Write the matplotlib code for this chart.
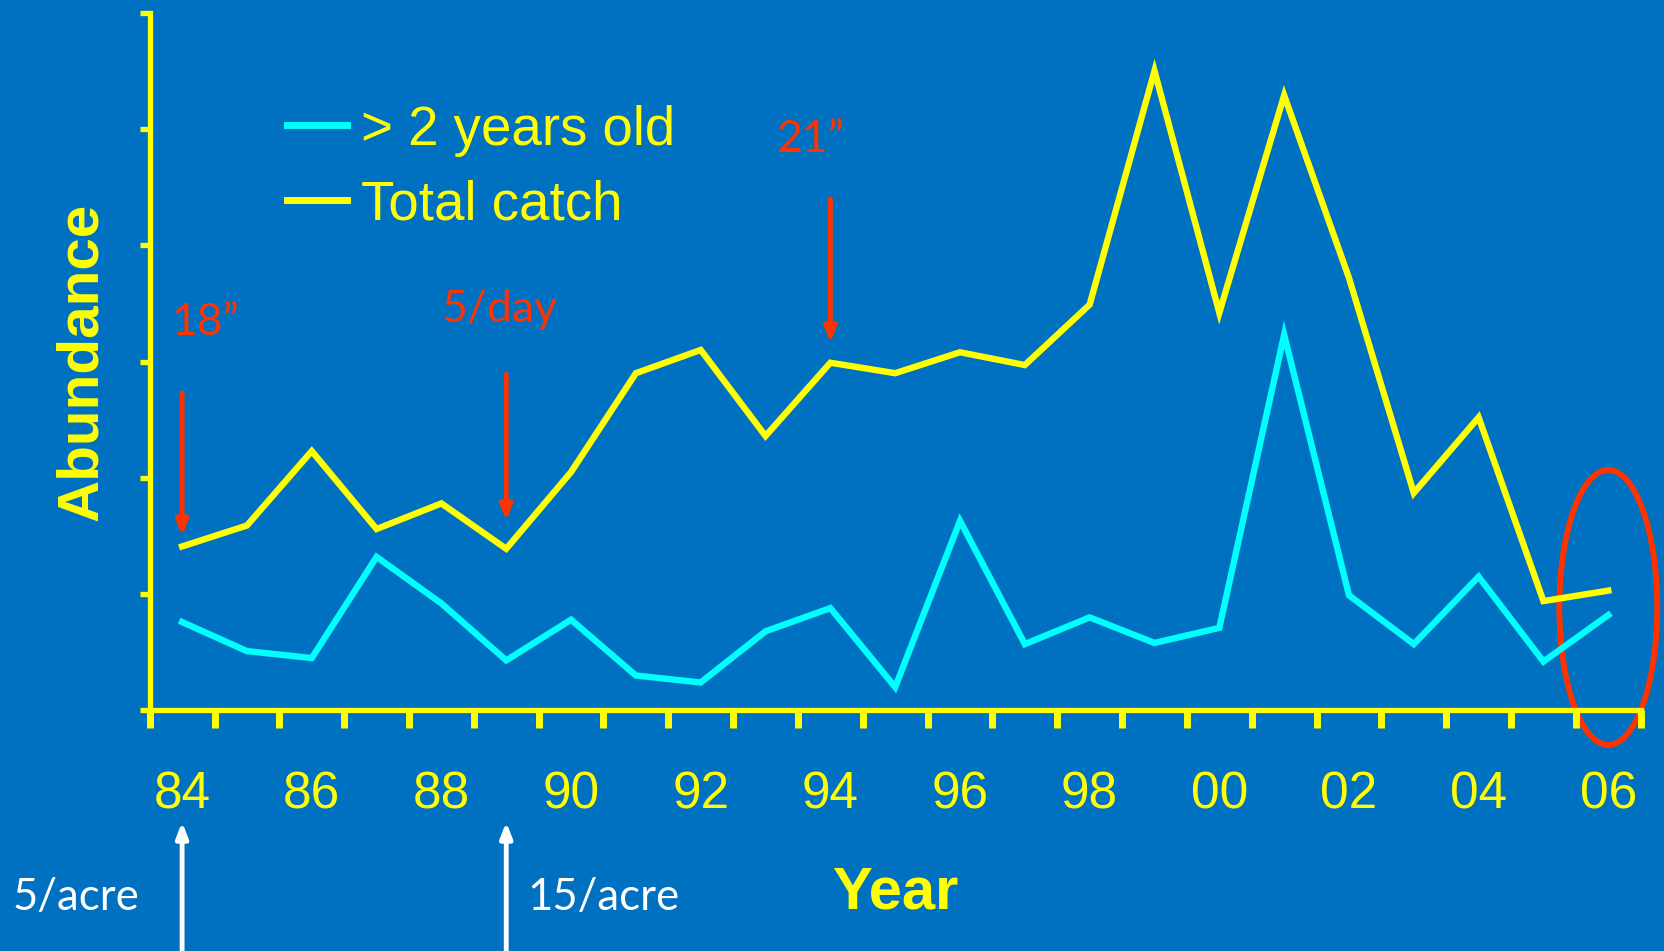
import matplotlib
matplotlib.use("Agg")
import matplotlib.pyplot as plt
from matplotlib.patches import Ellipse

years = list(range(1984, 2007))
total_catch = [14.1, 15.9, 22.3, 15.6, 17.8, 13.9, 20.5, 29.0, 31.0, 23.6, 29.9, 29.0,
               30.8, 29.7, 34.9, 55.0, 34.2, 52.9, 37.2, 18.7, 25.2, 9.4, 10.3]
older = [7.6, 5.1, 4.5, 13.2, 9.2, 4.3, 7.8, 3.0, 2.4, 6.8, 8.8, 2.0,
         16.3, 5.7, 8.0, 5.8, 7.1, 32.3, 9.9, 5.7, 11.5, 4.2, 8.2]
label_years = [1984, 1986, 1988, 1990, 1992, 1994, 1996, 1998, 2000, 2002, 2004, 2006]
tick_labels = ["84", "86", "88", "90", "92", "94", "96", "98", "00", "02", "04", "06"]
series_names = ["> 2 years old", "Total catch"]

# regulation annotations (red, above) and stocking annotations (white, below)
reg_years = [1984, 1989, 1994]
reg_labels = ["18\u201d", "5/day", "21\u201d"]
stock_years = [1984, 1989]
stock_labels = ["5/acre", "15/acre"]

BG = "#0070C0"
YEL = "#FFFF00"
CYAN = "#00FFFF"
RED = "#FF3300"

fig = plt.figure(figsize=(16.65, 9.51), dpi=100, facecolor=BG)
ax = fig.add_axes([0.0899, 0.2530, 0.9854 - 0.0899, 0.9866 - 0.2530])
ax.set_facecolor(BG)

ax.plot(years, older, color=CYAN, lw=4.6, solid_joinstyle="miter", label=series_names[0], clip_on=False)
ax.plot(years, total_catch, color=YEL, lw=4.6, solid_joinstyle="miter", label=series_names[1], clip_on=False)

ax.set_xlim(1983.5, 2006.5)
ax.set_ylim(0, 60)

for s in ["top", "right"]:
    ax.spines[s].set_visible(False)
for s in ["left", "bottom"]:
    ax.spines[s].set_color(YEL)
    ax.spines[s].set_linewidth(3.8)

ax.set_yticks(range(0, 61, 10))
ax.set_yticklabels([])
ax.tick_params(axis="y", colors=YEL, length=7, width=3.8, direction="out")

ax.set_xticks([y - 0.5 for y in years] + [2006.5])
ax.set_xticklabels([])
ax.tick_params(axis="x", which="major", colors=YEL, length=13, width=5, direction="out")
ax.set_xticks(label_years, minor=True)
ax.set_xticklabels(tick_labels, minor=True)
ax.tick_params(axis="x", which="minor", length=0, pad=43, labelcolor=YEL, labelsize=37)
for t in ax.get_xticklabels(minor=True):
    t.set_family("Liberation Sans")

ax.set_ylabel("Abundance", color=YEL, fontsize=42, fontweight="bold", family="Liberation Sans", labelpad=19)
fig.text(895 / 1665, 1 - 893 / 951, "Year", color=YEL, fontsize=43, fontweight="bold",
         family="Liberation Sans", ha="center", va="center")

leg = ax.legend(loc="center left", bbox_to_anchor=(286.7 / 1665, 783 / 951),
                bbox_transform=fig.transFigure, frameon=False, borderpad=0, borderaxespad=0,
                handlelength=1.1, handletextpad=0.26, labelspacing=0.42,
                prop={"family": "Liberation Sans", "size": 39.3})
for t in leg.get_texts():
    t.set_color(YEL)
for h in leg.get_lines():
    h.set_linewidth(5)

# red regulation arrows
arrow_tops = [27.3, 28.9, 44.0]
arrow_tips = [15.0, 16.3, 31.6]
text_pos = [(1984.36, 33.4), (1988.9, 34.5), (1993.7, 49.1)]
for yr, lab, top, tip, (tx, ty) in zip(reg_years, reg_labels, arrow_tops, arrow_tips, text_pos):
    ax.annotate("", xy=(yr, tip), xytext=(yr, top),
                arrowprops=dict(arrowstyle="-|>,head_length=0.9,head_width=0.35", color=RED, lw=3.5,
                                shrinkA=0, shrinkB=0))
    ax.text(tx, ty, lab, color=RED, fontsize=32, family="Lato", ha="center", va="center")

# white stocking arrows
xt = ax.get_xaxis_transform()
for yr in stock_years:
    ax.annotate("", xy=(yr, -0.160), xytext=(yr, -0.345), xycoords=xt, textcoords=xt,
                arrowprops=dict(arrowstyle="-|>,head_length=0.9,head_width=0.35", color="white", lw=3.5,
                                shrinkA=0, shrinkB=0), annotation_clip=False)
fig.text(12.7 / 1665, 1 - 898 / 951, stock_labels[0], color="white", fontsize=31.5, family="Lato",
         ha="left", va="center")
fig.text(527 / 1665, 1 - 898 / 951, stock_labels[1], color="white", fontsize=31.5, family="Lato",
         ha="left", va="center")

ell = Ellipse((2006.0, 8.86), width=1.51, height=23.65, fill=False, edgecolor=RED, lw=4.2, clip_on=False)
ax.add_patch(ell)

fig.savefig("out.png", dpi=100, facecolor=BG)
